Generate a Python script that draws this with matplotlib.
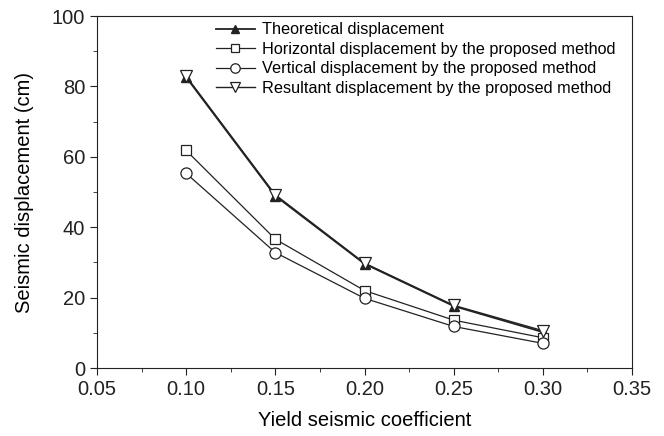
import matplotlib
matplotlib.use('Agg')
from matplotlib import pyplot as plt
from matplotlib.ticker import MultipleLocator

plt.rcParams['font.family'] = ['Liberation Sans', 'DejaVu Sans']

# yield seismic coefficient
ky = [0.10, 0.15, 0.20, 0.25, 0.30]
theoretical = [82.6, 48.9, 29.6, 17.6, 10.2]
horizontal = [61.8, 36.6, 22.0, 13.6, 8.6]
vertical = [55.3, 32.8, 19.8, 11.8, 7.0]
resultant = [82.9, 49.2, 29.8, 17.8, 10.6]

labels = ['Theoretical displacement',
          'Horizontal displacement by the proposed method',
          'Vertical displacement by the proposed method',
          'Resultant displacement by the proposed method']

fig = plt.figure(figsize=(6.64, 4.36), dpi=100)
ax = fig.add_axes([97/664, 1-368/436, (632-97)/664, (368-16)/436])

col = '#222222'
ax.plot(ky, theoretical, color=col, lw=1.3, marker='^', ms=7.5,
        mfc=col, mec=col, label=labels[0])
ax.plot(ky, horizontal, color=col, lw=0.9, marker='s', ms=7,
        mfc='white', mec=col, mew=0.9, label=labels[1])
ax.plot(ky, vertical, color=col, lw=0.9, marker='o', ms=8,
        mfc='white', mec=col, mew=0.9, label=labels[2])
ax.plot(ky, resultant, color=col, lw=1.0, marker='v', ms=8.5,
        mfc='white', mec=col, mew=0.9, label=labels[3])

ax.set_xlim(0.05, 0.35)
ax.set_ylim(0, 100)
ax.xaxis.set_major_locator(MultipleLocator(0.05))
ax.xaxis.set_minor_locator(MultipleLocator(0.025))
ax.yaxis.set_major_locator(MultipleLocator(20))
ax.yaxis.set_minor_locator(MultipleLocator(10))
ax.xaxis.set_major_formatter(matplotlib.ticker.FormatStrFormatter('%.2f'))
ax.tick_params(which='both', direction='out', top=False, right=False,
               labelsize=14.5, colors='#222222')
ax.tick_params(which='major', length=5)
ax.tick_params(which='minor', length=3)
for s in ax.spines.values():
    s.set_color('#222222')

ax.set_xlabel('Yield seismic coefficient', fontsize=14.5, labelpad=9)
ax.set_ylabel('Seismic displacement (cm)', fontsize=14.5, labelpad=13)

ax.legend(loc='upper left', bbox_to_anchor=(0.204, 1.01), frameon=False,
          fontsize=11.7, handlelength=2.4, labelspacing=0.28,
          handletextpad=0.45, borderaxespad=0.2, markerscale=0.85)

plt.savefig('out.png', dpi=100)
